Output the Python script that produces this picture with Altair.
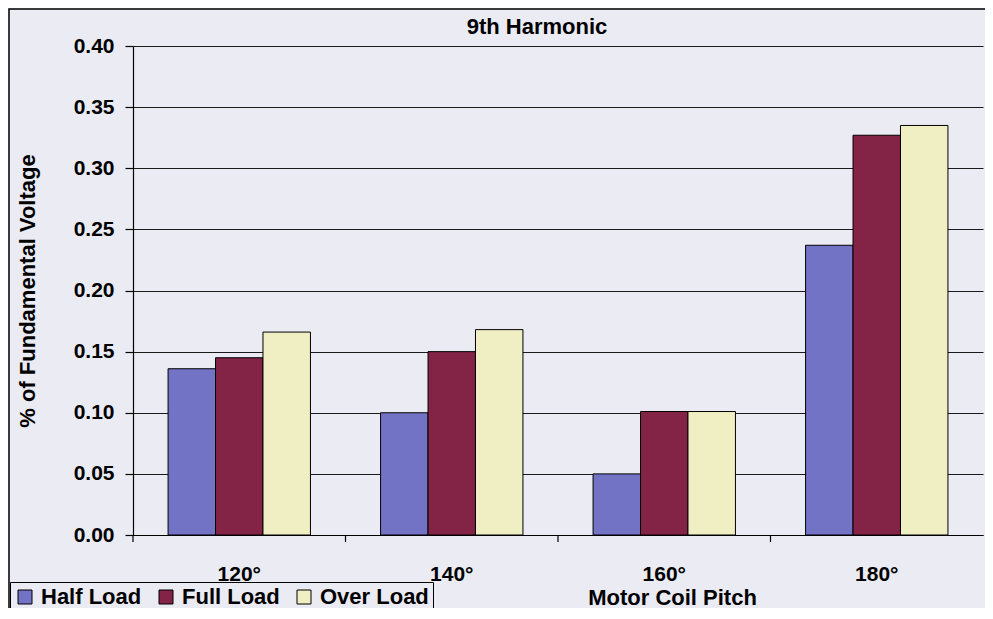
import altair as alt
import pandas as pd

categories = ["120°", "140°", "160°", "180°"]
series = ["Half Load", "Full Load", "Over Load"]
half_load = [0.136, 0.100, 0.050, 0.237]
full_load = [0.145, 0.150, 0.101, 0.327]
over_load = [0.166, 0.168, 0.101, 0.335]
colors = ["#7373c6", "#832345", "#f0efc4"]
y_ticks = [0.0, 0.05, 0.10, 0.15, 0.20, 0.25, 0.30, 0.35, 0.40]
chart_title = "9th Harmonic"

rows = []
for s, vals in zip(series, [half_load, full_load, over_load]):
    for c, v in zip(categories, vals):
        rows.append({"Pitch": c, "Series": s, "Value": v})
df = pd.DataFrame(rows)

FONT = "Liberation Sans"
BG = "#ebebf3"
W, H = 850, 489
P_INNER = 0.33
STEP = W / len(categories)

x_scale = alt.Scale(domain=categories, paddingInner=P_INNER, paddingOuter=P_INNER / 2)

one = pd.DataFrame({"a": [0]})

frame = alt.Chart(one).mark_rect(
    fillOpacity=0, stroke="black", strokeWidth=1.5, clip=False
).encode(
    x=alt.value(-124), x2=alt.value(W + 300), y=alt.value(-37), y2=alt.value(H + 300)
)

title = alt.Chart(one).mark_text(
    font=FONT, fontSize=22, fontWeight="bold", color="black",
    align="center", baseline="middle",
).encode(x=alt.value(404), y=alt.value(-19), text=alt.value(chart_title))

bars = alt.Chart(df).mark_bar(stroke="black", strokeWidth=1).encode(
    x=alt.X(
        "Pitch:N", scale=x_scale, sort=categories,
        axis=alt.Axis(
            title="Motor Coil Pitch", labelAngle=0, ticks=False, tickSize=0,
            labelPadding=28, labelFontSize=21, labelFont=FONT, labelFontWeight="bold",
            labelColor="black", domainColor="black", domainWidth=1.2,
            titleX=539, titleY=62, titleAlign="center", titleBaseline="middle",
            titleFontSize=22, titleFont=FONT, titleFontWeight="bold", titleColor="black",
        ),
    ),
    xOffset=alt.XOffset("Series:N", sort=series,
                        scale=alt.Scale(domain=series, paddingInner=0, paddingOuter=0)),
    y=alt.Y(
        "Value:Q", scale=alt.Scale(domain=[0, 0.4], nice=False),
        axis=alt.Axis(
            values=y_ticks, format=".2f", title="% of Fundamental Voltage",
            labelFontSize=21, labelFont=FONT, labelFontWeight="bold", labelColor="black",
            labelPadding=11, tickSize=8, tickColor="black", tickWidth=1.2,
            domainColor="black", domainWidth=1.2,
            grid=True, gridColor="#1a1a1a", gridWidth=1.2,
            titleX=-106, titleY=H / 2, titleAngle=270, titleAlign="center",
            titleBaseline="middle", titleFontSize=22, titleFont=FONT,
            titleFontWeight="bold", titleColor="black",
        ),
    ),
    color=alt.Color(
        "Series:N", sort=series, scale=alt.Scale(domain=series, range=colors),
        legend=alt.Legend(
            title=None, orient="none", legendX=-123, legendY=536,
            direction="horizontal", symbolType="square", symbolSize=196,
            symbolStrokeColor="black", symbolStrokeWidth=1,
            labelFontSize=22, labelFont=FONT, labelFontWeight="bold", labelColor="black",
            labelOffset=5, columnPadding=13, padding=4,
            strokeColor="black", fillColor=BG,
        ),
    ),
)

tick_df = pd.DataFrame({"Pitch": categories})
ticks = alt.Chart(tick_df).mark_rule(
    color="black", strokeWidth=1.2, xOffset=-STEP * P_INNER / 2
).encode(
    x=alt.X("Pitch:N", sort=categories, bandPosition=0),
    y=alt.value(H), y2=alt.value(H + 7),
)

chart = alt.layer(frame, bars, ticks, title).properties(
    width=W, height=H,
    padding={"left": 125, "top": 38, "right": 2, "bottom": 73},
    autosize=alt.AutoSizeParams(type="none"),
    background=BG,
).configure_view(strokeWidth=0)

chart.save("out.html", embed_options={"renderer": "svg", "actions": False})
